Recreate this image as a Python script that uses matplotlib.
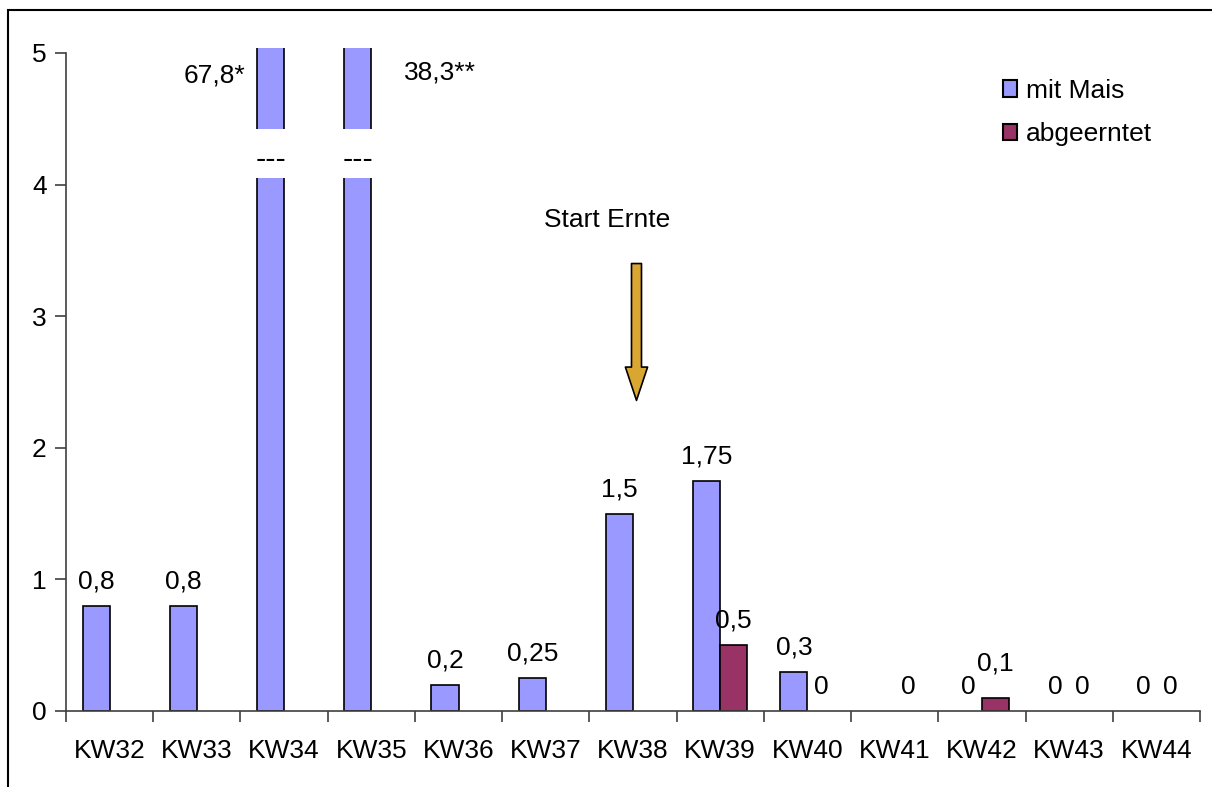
import numpy as np
import matplotlib
matplotlib.use("Agg")
import matplotlib.pyplot as plt
from matplotlib.patches import Rectangle, Patch

plt.rcParams['font.family'] = ['Liberation Sans', 'DejaVu Sans']

categories = ["KW32", "KW33", "KW34", "KW35", "KW36", "KW37", "KW38",
              "KW39", "KW40", "KW41", "KW42", "KW43", "KW44"]
mit_mais = [0.8, 0.8, 67.8, 38.3, 0.2, 0.25, 1.5, 1.75, 0.3, np.nan, 0, 0, 0]
abgeerntet = [np.nan, np.nan, np.nan, np.nan, np.nan, np.nan, np.nan,
              0.5, 0, 0, 0.1, 0, 0]
big_labels = {2: "67,8*", 3: "38,3**"}
y_ticks = [0, 1, 2, 3, 4, 5]
series_names = ["mit Mais", "abgeerntet"]

BLUE = "#9999FF"
RED = "#993366"
FS = 19

fig = plt.figure(figsize=(12.12, 7.87), dpi=100)
ax = fig.add_axes([66/1212, 1-711/787, (1200-66)/1212, (711-47.7)/787])

x = np.arange(len(categories))
w = 0.31

def lw(vals):
    return [0 if (np.isnan(v) or v == 0) else 1.2 for v in vals]

ax.bar(x - w/2, mit_mais, w, color=BLUE, edgecolor="black", linewidth=lw(mit_mais), zorder=2)
ax.bar(x + w/2, abgeerntet, w, color=RED, edgecolor="black", linewidth=lw(abgeerntet), zorder=2)

ax.set_ylim(0, 5.04)
ax.set_xlim(-0.5, len(categories) - 0.5)

def fmt(v):
    return f"{v:g}".replace(".", ",")

# extra lift (points) for a label moved to avoid overlapping its neighbour
extra_lift = {(1, 10): 7}

for s, (xs, vals) in enumerate(((x - w/2, mit_mais), (x + w/2, abgeerntet))):
    for i, (xi, v) in enumerate(zip(xs, vals)):
        if np.isnan(v) or v > 5:
            continue
        ax.annotate(fmt(v), (xi, v), xytext=(0, 9 + extra_lift.get((s, i), 0)),
                    textcoords="offset points", ha="center", va="bottom", fontsize=FS)

# broken bars
for i, lab in big_labels.items():
    xi = x[i] - w/2
    ax.add_patch(Rectangle((xi - w*0.8, 4.05), w*1.6, 0.37, facecolor="white",
                           edgecolor="none", zorder=3))
    ax.text(xi, 4.19, "---", ha="center", va="center", fontsize=22, zorder=4)
ax.text(x[2] - w/2 - 0.64, 4.83, big_labels[2], ha="center", va="center", fontsize=FS)
ax.text(x[3] - w/2 + 0.94, 4.85, big_labels[3], ha="center", va="center", fontsize=FS)

# Start Ernte annotation
ax.text(6.0 - 0.3, 3.73, "Start Ernte", ha="center", va="center", fontsize=FS)
ax.annotate("", xy=(6.04, 2.36), xytext=(6.04, 3.40),
            arrowprops=dict(arrowstyle="simple,head_length=1.5,head_width=1.0,tail_width=0.45",
                            mutation_scale=16, facecolor="#DAA632",
                            edgecolor="black", linewidth=1.2, shrinkA=0, shrinkB=0))

# axes styling
for s in ("top", "right"):
    ax.spines[s].set_visible(False)
ax.spines["left"].set_bounds(0, 5)
for s in ("left", "bottom"):
    ax.spines[s].set_color("#404040")
    ax.spines[s].set_linewidth(1.2)
ax.set_yticks(y_ticks)
ax.set_yticklabels([str(t) for t in y_ticks])
ax.tick_params(axis="y", length=8, width=1.2, color="#404040", labelsize=FS, pad=6)
ax.set_xticks(np.arange(len(categories) + 1) - 0.5)
ax.set_xticklabels([])
ax.tick_params(axis="x", which="major", length=8, width=1.2, color="#404040")
ax.set_xticks(x, minor=True)
ax.set_xticklabels(categories, minor=True)
ax.tick_params(axis="x", which="minor", length=0, labelsize=FS, pad=20)

handles = [Patch(facecolor=BLUE, edgecolor="black", linewidth=1.5, label=series_names[0]),
           Patch(facecolor=RED, edgecolor="black", linewidth=1.5, label=series_names[1])]
ax.legend(handles=handles, loc="upper left", bbox_to_anchor=(992/1212, 1-68/787),
          bbox_transform=fig.transFigure,
          frameon=False, fontsize=FS, handlelength=0.55, handleheight=0.6,
          handletextpad=0.35, labelspacing=0.75, borderaxespad=0)

# outer frame
fig.add_artist(Rectangle((8/1212, -0.2), 1.5, 1.2 - 10/787, transform=fig.transFigure,
                         fill=False, edgecolor="black", linewidth=1.5))

fig.savefig("out.png", dpi=100)
